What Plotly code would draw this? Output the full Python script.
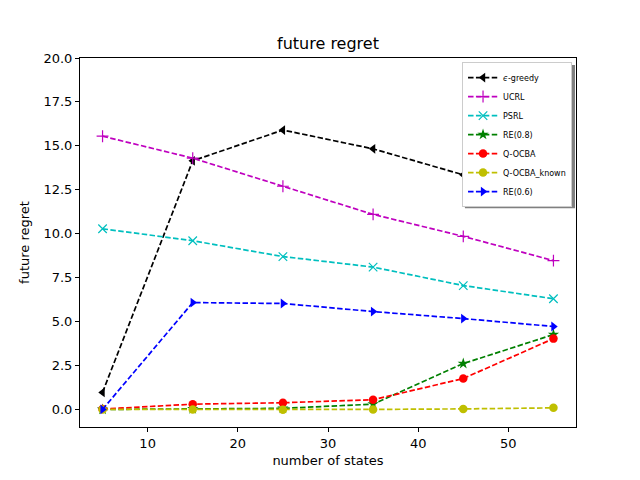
import plotly.graph_objects as go

# number of states on the x axis
states = [5, 15, 25, 35, 45, 55]

eps_greedy = [0.97, 14.15, 15.9, 14.83, 13.35, 12.05]
ucrl = [15.55, 14.3, 12.7, 11.1, 9.85, 8.47]
psrl = [10.28, 9.6, 8.7, 8.1, 7.05, 6.3]
re_08 = [0.0, 0.03, 0.06, 0.3, 2.61, 4.26]
q_ocba = [0.02, 0.3, 0.38, 0.55, 1.76, 4.03]
q_ocba_known = [0.0, 0.0, -0.02, 0.0, 0.03, 0.09]
re_06 = [0.0, 6.08, 6.03, 5.57, 5.17, 4.72]

series = [
    ("<i>ϵ</i>-greedy", eps_greedy, "black", "triangle-left"),
    ("UCRL", ucrl, "#bf00bf", "cross-thin"),
    ("PSRL", psrl, "#00bfbf", "x-thin"),
    ("RE(0.8)", re_08, "#008000", "star"),
    ("Q-OCBA", q_ocba, "#ff0000", "circle"),
    ("Q-OCBA_known", q_ocba_known, "#bfbf00", "circle"),
    ("RE(0.6)", re_06, "#0000ff", "triangle-right"),
]

fig = go.Figure()
for name, vals, col, sym in series:
    thin = sym.endswith("thin")
    fig.add_trace(go.Scatter(
        x=states, y=vals, name=name, mode="lines+markers",
        line=dict(color=col, width=1.7, dash="5.5px,2.4px"),
        marker=dict(symbol=sym, size=8.5, color=col,
                    line=dict(color=col, width=1.2 if thin else 0)),
    ))

axis_common = dict(
    showgrid=False, zeroline=False, showline=True, linecolor="black",
    linewidth=1, mirror=True, ticks="outside", ticklen=4, tickcolor="black",
    tickfont=dict(size=13, color="black"),
)

# the page puts the figure 8px in from the window corner
fig.update_layout(
    width=640, height=480,
    margin=dict(l=72, r=72, t=50, b=61),
    paper_bgcolor="white", plot_bgcolor="white",
    font=dict(family="DejaVu Sans", color="black"),
    title=dict(text="future regret", x=0.5, xanchor="center", y=0.927,
               yanchor="middle", font=dict(size=16)),
    xaxis=dict(range=[2.5, 57.5], tickvals=[10, 20, 30, 40, 50],
               title=dict(text="number of states", font=dict(size=13), standoff=6),
               **axis_common),
    yaxis=dict(range=[-1, 20], tickvals=[0, 2.5, 5, 7.5, 10, 12.5, 15, 17.5, 20],
               tickformat=".1f",
               title=dict(text="future regret", font=dict(size=13), standoff=10),
               **axis_common),
    legend=dict(x=0.992, y=0.989, xanchor="right", yanchor="top",
                bgcolor="white", bordercolor="#cccccc", borderwidth=1,
                font=dict(size=8), tracegroupgap=0, itemwidth=30),
    showlegend=True,
)

# drop shadow under the legend box
fig.add_shape(type="rect", xref="paper", yref="paper",
              x0=0.776, x1=0.998, y0=0.593, y1=0.981,
              fillcolor="#808080", line=dict(width=0), layer="above")

fig.write_html("out.html")
